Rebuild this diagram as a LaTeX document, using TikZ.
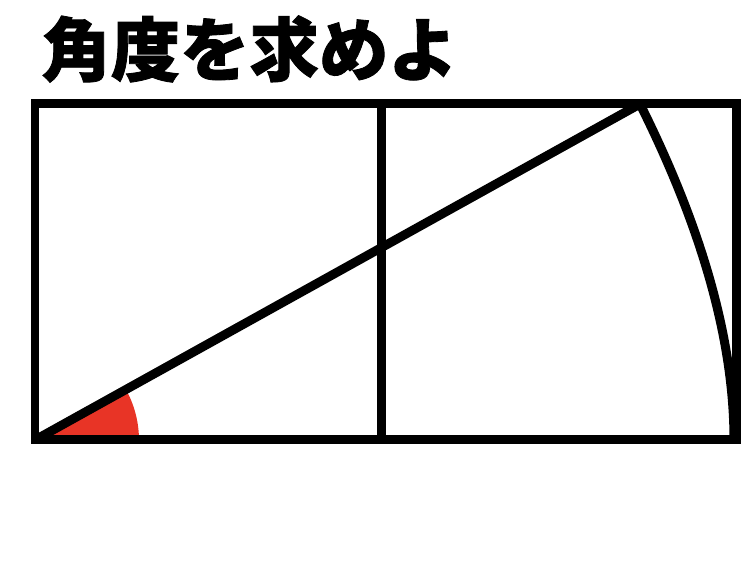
\documentclass[tikz,border=0pt]{standalone}
\usepackage{fontspec}
\newfontfamily\jpfont{Noto Sans CJK JP}[BoldFeatures={FakeBold=1.2}]
\definecolor{anglered}{RGB}{232,52,38}

\begin{document}
\begin{tikzpicture}[x=0.02cm,y=0.02cm,
    edge/.style={line width=0.18cm}]
      \useasboundingbox (0,0) rectangle (750,581);
      \node[anchor=west,inner sep=0pt] (title) at (41,532) {\jpfont\bfseries\fontsize{39.5}{40}\selectfont 角度を求めよ};

      \coordinate (O) at (35,141);
      \coordinate (1) at (736,141);
      \coordinate (2) at (736,477);
      \coordinate (3) at (35,477);
      \coordinate (4) at (381,141);
      \coordinate (5) at (381,477);
      \coordinate (P) at (640,477);
      \coordinate (Q) at (734,141);

      \fill[anglered] (O) -- ++(0:2.08cm) arc[start angle=0,end angle=29,radius=2.08cm] -- cycle;
      \draw[edge] (O) -- (1) -- (2) -- (3) -- cycle;
      \draw[edge] (4) -- (5);
      \draw[edge] (O) -- (P);
      \draw[edge] (P) .. controls (695,367) and (734,251) .. (Q);
    \end{tikzpicture}
\end{document}
